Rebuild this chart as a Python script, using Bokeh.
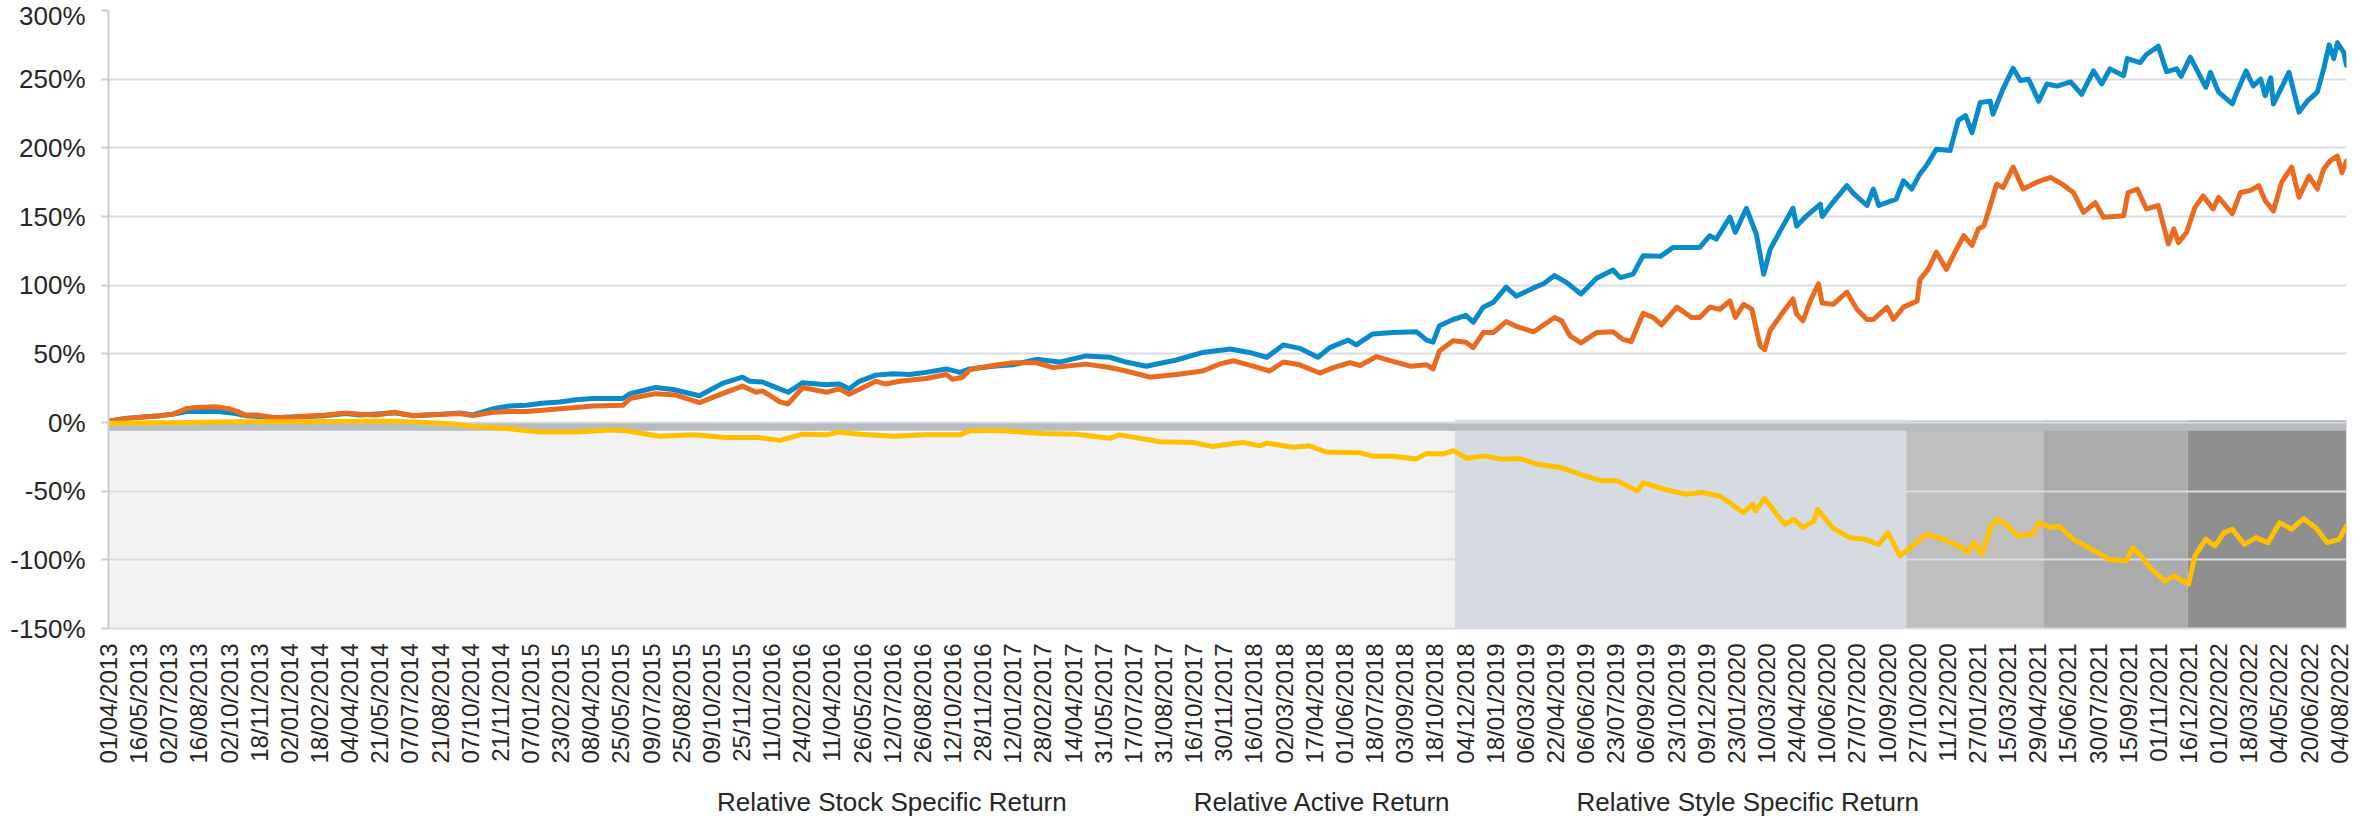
import math
from bokeh.plotting import figure
from bokeh.layouts import column
from bokeh.models import Range1d, FixedTicker, Legend, LegendItem
from bokeh.embed import file_html
from bokeh.resources import INLINE

# ---------------- data ----------------
LAST_BDAY = 2450                   # observation number of the last data point
TICK_STEP = 33                     # one date label every 33 observations

tick_labels = [
    "01/04/2013", "16/05/2013", "02/07/2013", "16/08/2013", "02/10/2013", "18/11/2013", "02/01/2014",
    "18/02/2014", "04/04/2014", "21/05/2014", "07/07/2014", "21/08/2014", "07/10/2014", "21/11/2014",
    "07/01/2015", "23/02/2015", "08/04/2015", "25/05/2015", "09/07/2015", "25/08/2015", "09/10/2015",
    "25/11/2015", "11/01/2016", "24/02/2016", "11/04/2016", "26/05/2016", "12/07/2016", "26/08/2016",
    "12/10/2016", "28/11/2016", "12/01/2017", "28/02/2017", "14/04/2017", "31/05/2017", "17/07/2017",
    "31/08/2017", "16/10/2017", "30/11/2017", "16/01/2018", "02/03/2018", "17/04/2018", "01/06/2018",
    "18/07/2018", "03/09/2018", "18/10/2018", "04/12/2018", "18/01/2019", "06/03/2019", "22/04/2019",
    "06/06/2019", "23/07/2019", "06/09/2019", "23/10/2019", "09/12/2019", "23/01/2020", "10/03/2020",
    "24/04/2020", "10/06/2020", "27/07/2020", "10/09/2020", "27/10/2020", "11/12/2020", "27/01/2021",
    "15/03/2021", "29/04/2021", "15/06/2021", "30/07/2021", "15/09/2021", "01/11/2021", "16/12/2021",
    "01/02/2022", "18/03/2022", "04/05/2022", "20/06/2022", "04/08/2022",
]
tick_pos = [i * TICK_STEP for i in range(len(tick_labels))]

y_ticks = [-150, -100, -50, 0, 50, 100, 150, 200, 250, 300]
y_tick_labels = [f"{v}%" for v in y_ticks]

series_names = ["Relative Stock Specific Return", "Relative Active Return",
                "Relative Style Specific Return"]
series_colors = ["#0a8bc9", "#e96b1f", "#ffc000"]

stock_bday = [0, 19, 56, 70, 85, 103, 121, 139, 150, 183, 202, 238, 260, 275, 313, 333, 366, 384, 399, 421,
              439, 457, 475, 494, 512, 530, 563, 571, 599, 618, 647, 672, 694, 702, 716, 727, 744, 760, 786, 800,
              811, 822, 840, 859, 877, 895, 917, 932, 943, 968, 990, 1016, 1041, 1070, 1096, 1114, 1136, 1169,
              1198, 1228, 1249, 1268, 1286, 1304, 1324, 1337, 1357, 1366, 1384, 1406, 1432, 1443, 1450, 1457,
              1472, 1486, 1494, 1505, 1516, 1530, 1541, 1560, 1571, 1583, 1596, 1612, 1629, 1647, 1655, 1669,
              1680, 1699, 1713, 1742, 1753, 1760, 1775, 1781, 1793, 1804, 1812, 1819, 1830, 1844, 1848, 1859,
              1874, 1876, 1888, 1903, 1910, 1925, 1932, 1938, 1957, 1965, 1974, 1983, 1990, 2001, 2016, 2025,
              2033, 2040, 2049, 2060, 2063, 2074, 2085, 2093, 2102, 2113, 2122, 2133, 2148, 2160, 2173, 2182,
              2191, 2206, 2210, 2224, 2231, 2244, 2253, 2264, 2269, 2279, 2296, 2301, 2310, 2325, 2330, 2340,
              2348, 2356, 2361, 2367, 2370, 2379, 2387, 2398, 2407, 2418, 2425, 2431, 2436, 2440, 2447, 2450]
stock_ret = [1, 3, 5, 6, 8, 8, 8, 6.5, 5, 3.5, 4, 5, 6.5, 5.5, 7, 5, 6, 7, 5.5, 10,
             12, 12.5, 14, 15, 16.5, 17.5, 17.5, 21, 25.5, 24, 19.5, 28.5, 33, 30, 29.5, 26.5, 22, 29, 27.5, 28,
             24.5, 30, 34.5, 35.5, 35, 36.5, 39, 36.5, 39, 41, 42, 46, 44, 48.5, 47.5, 44, 41, 45.5,
             51, 53.5, 51, 47.5, 56.5, 54, 47.5, 54.5, 60, 56.5, 64.5, 65.5, 66, 60, 58.5, 70.5,
             75, 78, 73, 84, 87.5, 98.5, 92, 98, 101, 107, 102, 93.5, 105, 111, 105.5, 108,
             121.5, 121, 127.5, 127.5, 136, 133.5, 149.5, 138.5, 156, 137, 108, 126, 139.5, 156, 143, 150.5,
             159, 150, 160.5, 172.5, 167, 158, 170, 158, 162.7, 176, 170, 181, 187, 199, 198, 220,
             223.5, 211, 233, 234, 224.5, 243, 258, 249, 250, 234, 246.5, 245, 248, 239, 256, 246.5,
             257.5, 252.5, 265, 262, 268, 274, 255.5, 257.5, 252, 266, 244, 255, 240.5, 232, 240.5, 256,
             245, 250, 238, 251, 232, 244, 255, 226, 234, 240.5, 257.5, 275, 265, 276.5, 269.5, 260]

active_bday = [0, 19, 56, 70, 85, 96, 117, 132, 143, 150, 161, 183, 202, 238, 260, 275, 293, 313, 333, 348,
               366, 384, 399, 421, 439, 457, 475, 494, 512, 530, 563, 571, 599, 621, 647, 672, 694, 709, 716,
               735, 744, 760, 786, 800, 811, 840, 851, 866, 895, 917, 924, 935, 943, 968, 990, 1016, 1034,
               1070, 1096, 1114, 1140, 1169, 1198, 1216, 1231, 1253, 1271, 1286, 1304, 1326, 1341, 1359,
               1370, 1388, 1403, 1425, 1443, 1450, 1457, 1472, 1486, 1494, 1505, 1516, 1530, 1541, 1560,
               1571, 1583, 1591, 1600, 1612, 1629, 1647, 1658, 1667, 1680, 1691, 1700, 1717, 1733, 1742,
               1753, 1764, 1775, 1781, 1790, 1799, 1808, 1813, 1819, 1830, 1844, 1848, 1855, 1863, 1872,
               1876, 1888, 1903, 1914, 1925, 1932, 1947, 1954, 1965, 1980, 1983, 1992, 2001, 2012, 2022,
               2031, 2040, 2047, 2053, 2060, 2067, 2074, 2085, 2096, 2111, 2126, 2140, 2151, 2162, 2175,
               2184, 2206, 2211, 2221, 2231, 2244, 2255, 2261, 2266, 2275, 2284, 2293, 2304, 2310, 2325,
               2334, 2345, 2354, 2361, 2370, 2379, 2390, 2398, 2409, 2418, 2425, 2432, 2440, 2445, 2450]
active_ret = [1, 3, 5, 6, 10, 11, 11.5, 10, 7.5, 5.5, 5.5, 3.5, 4, 5.5, 7, 6, 5.5, 7.5, 5, 5.5,
              6, 6.5, 5, 7.5, 8, 8, 9, 10, 11, 12, 12.5, 17.5, 21, 20, 14.5, 21, 26.5, 22, 23,
              15, 13.5, 25.5, 22, 24.5, 20.5, 30, 28, 30, 32, 35, 31.5, 33, 38.5, 41.5, 43.5, 43.5, 40,
              42.5, 40, 37.5, 33, 35, 37.5, 42.5, 45, 41, 37.5, 44, 42, 36, 40, 43.5,
              41.5, 48, 45, 41, 42, 39, 52, 59.5, 58.5, 54.5, 65.5, 65.5, 73.5, 70, 66,
              71, 76.5, 74, 63, 58, 65.5, 66, 60.5, 59, 79.5, 76.5, 71, 84, 76.5, 76.5,
              84, 82.5, 88.5, 76.5, 86, 82.5, 56, 53, 67, 77.5, 90, 79, 74, 88.5, 101,
              87, 86, 95, 82.5, 75, 75, 84, 75, 84, 88.5, 104, 111.5, 124, 111.5, 125,
              136, 129, 141, 143, 158, 173.5, 171, 186, 170, 175, 178.5, 173, 167.5, 153, 160,
              149.5, 150.5, 167.5, 170, 155.5, 158, 130, 141, 131, 138.5, 156.5, 165, 155.5, 164, 152,
              167.5, 169, 172.5, 161.5, 154, 175, 186, 164, 179.5, 170, 184.5, 190.5, 194, 182, 190.5]

style_bday = [0, 92, 128, 202, 275, 311, 348, 377, 402, 439, 472, 512, 550, 567, 603, 640, 676, 713, 735,
              760, 786, 800, 822, 859, 895, 932, 943, 979, 1023, 1059, 1096, 1107, 1151, 1187, 1209, 1224,
              1242, 1260, 1268, 1297, 1315, 1333, 1370, 1384, 1406, 1432, 1443, 1461, 1472, 1487, 1506,
              1526, 1545, 1564, 1590, 1616, 1635, 1651, 1674, 1680, 1703, 1726, 1745, 1764, 1790, 1800,
              1803, 1813, 1829, 1835, 1845, 1855, 1867, 1871, 1887, 1906, 1922, 1938, 1948, 1961, 1977,
              1990, 2009, 2029, 2035, 2042, 2051, 2061, 2067, 2077, 2090, 2106, 2113, 2126, 2135, 2151,
              2171, 2190, 2209, 2216, 2225, 2235, 2251, 2261, 2277, 2284, 2296, 2306, 2316, 2325, 2338,
              2351, 2364, 2377, 2390, 2403, 2416, 2429, 2442, 2450]
style_ret = [-0.5, 0, 0.5, 0.5, 1, 1, 0, -1, -3, -4.5, -7, -7, -5.5, -6, -10, -9, -11, -11, -13,
             -8.5, -9, -7, -8.5, -10, -9, -9, -6, -6, -8, -8.5, -11.5, -9, -14, -14.5, -17.5, -16,
             -14.5, -17, -15, -18, -17, -21.5, -22, -24.5, -24.5, -26.5, -22.5, -23, -20.5, -26, -24.3,
             -26.7, -26.2, -30.4, -32.8, -38.9, -42.5, -42.5, -49.8, -43.7, -48.6, -52.2, -51, -53.5, -65.6, -59.5,
             -64.4, -55.4, -69.2, -74.1, -70.5, -76.5, -71.7, -63.2, -76.5, -83.8, -85, -88.7, -80.2, -97.2, -88.7,
             -81.4, -85, -91.1, -94.8, -87.5, -96, -75.3, -70.5, -74.1, -82.6, -81.4, -72.9, -76.5, -75.3, -85,
             -92.3, -99.6, -100.8, -91.1, -97.2, -105.7, -115.4, -111.8, -117.8, -97.2, -85, -89.9, -80.2, -77.7, -88.7,
             -83.8, -87.5, -72.9, -77.7, -70, -76.5, -87.5, -85, -75.3]

# shaded periods below the zero line
region_start = [0, 1474, 1968, 2118, 2276]
region_end = [1474, 1968, 2118, 2276, 2450]
region_top = [0, 2, 1.5, 1.5, 1.5]
region_bottom = [-150, -150, -150, -150, -150]
region_color = ["#f2f2f2", "#d6dbe2", "#bfbfbf", "#ababab", "#8f8f8f"]
band_top, band_bottom = 0, -6
band_color = "#b7bbc2"

FONT = "Liberation Sans"
TEXT_COLOR = "#262626"
GRID_COLOR = "#d9dce1"

# ---------------- main chart ----------------
p = figure(width=2358, height=790,
           x_range=Range1d(0, LAST_BDAY), y_range=Range1d(-150, 300),
           output_backend="svg", toolbar_location=None,
           min_border_left=108, min_border_right=12, min_border_top=10, min_border_bottom=162)
p.outline_line_color = None
p.background_fill_color = "white"

p.quad(left=region_start, right=region_end, top=region_top, bottom=region_bottom,
       fill_color=region_color, line_color=None, level="image")
p.quad(left=[0], right=[LAST_BDAY], top=[band_top], bottom=[band_bottom],
       fill_color=band_color, line_color=None, level="image")

for xs, ys, c in [(stock_bday, stock_ret, series_colors[0]),
                  (active_bday, active_ret, series_colors[1]),
                  (style_bday, style_ret, series_colors[2])]:
    p.line(xs, ys, line_color=c, line_width=5, line_join="round", line_cap="round")

# grid
p.xgrid.visible = False
p.ygrid.ticker = FixedTicker(ticks=y_ticks)
p.ygrid.grid_line_color = GRID_COLOR
p.ygrid.grid_line_width = 2

# y axis
ya = p.yaxis[0]
ya.ticker = FixedTicker(ticks=y_ticks)
ya.major_label_overrides = {v: lbl for v, lbl in zip(y_ticks, y_tick_labels)}
ya.axis_line_color = "#c9cdd3"
ya.axis_line_width = 2
ya.major_tick_line_color = "#c9cdd3"
ya.major_tick_line_width = 2
ya.major_tick_out = 7
ya.major_tick_in = 0
ya.minor_tick_out = 0
ya.minor_tick_in = 0
ya.major_label_standoff = 16
ya.major_label_text_font = FONT
ya.major_label_text_font_size = "26px"
ya.major_label_text_color = TEXT_COLOR

# x axis
xa = p.xaxis[0]
xa.ticker = FixedTicker(ticks=tick_pos)
xa.major_label_overrides = {v: lbl for v, lbl in zip(tick_pos, tick_labels)}
xa.major_label_orientation = math.pi / 2
xa.axis_line_color = GRID_COLOR
xa.axis_line_width = 2
xa.major_tick_out = 0
xa.major_tick_in = 0
xa.minor_tick_out = 0
xa.minor_tick_in = 0
xa.major_label_standoff = 15
xa.axis_label_standoff = 0
xa.major_label_text_font = FONT
xa.major_label_text_font_size = "24px"
xa.major_label_text_color = TEXT_COLOR

# ---------------- legend strip ----------------
leg = figure(width=2358, height=30, x_range=Range1d(0, 1), y_range=Range1d(0, 1),
             output_backend="svg", toolbar_location=None,
             x_axis_location=None, y_axis_location=None,
             min_border_left=0, min_border_right=0, min_border_top=0, min_border_bottom=0)
leg.outline_line_color = None
leg.xgrid.visible = False
leg.ygrid.visible = False
leg.background_fill_color = "white"

key_renderers = [leg.line([], [], line_color=c, line_width=6, line_cap="round") for c in series_colors]
legend = Legend(items=[LegendItem(label=n, renderers=[r]) for n, r in zip(series_names, key_renderers)],
                orientation="horizontal", location=(547, 2), margin=0, padding=0,
                spacing=65, glyph_width=58, glyph_height=26, label_height=26, label_standoff=4,
                label_text_font=FONT, label_text_font_size="26px", label_text_color=TEXT_COLOR,
                border_line_color=None, background_fill_alpha=0)
leg.add_layout(legend, "center")

layout = column(p, leg, spacing=0)
open("out.html", "w").write(file_html(layout, INLINE))
